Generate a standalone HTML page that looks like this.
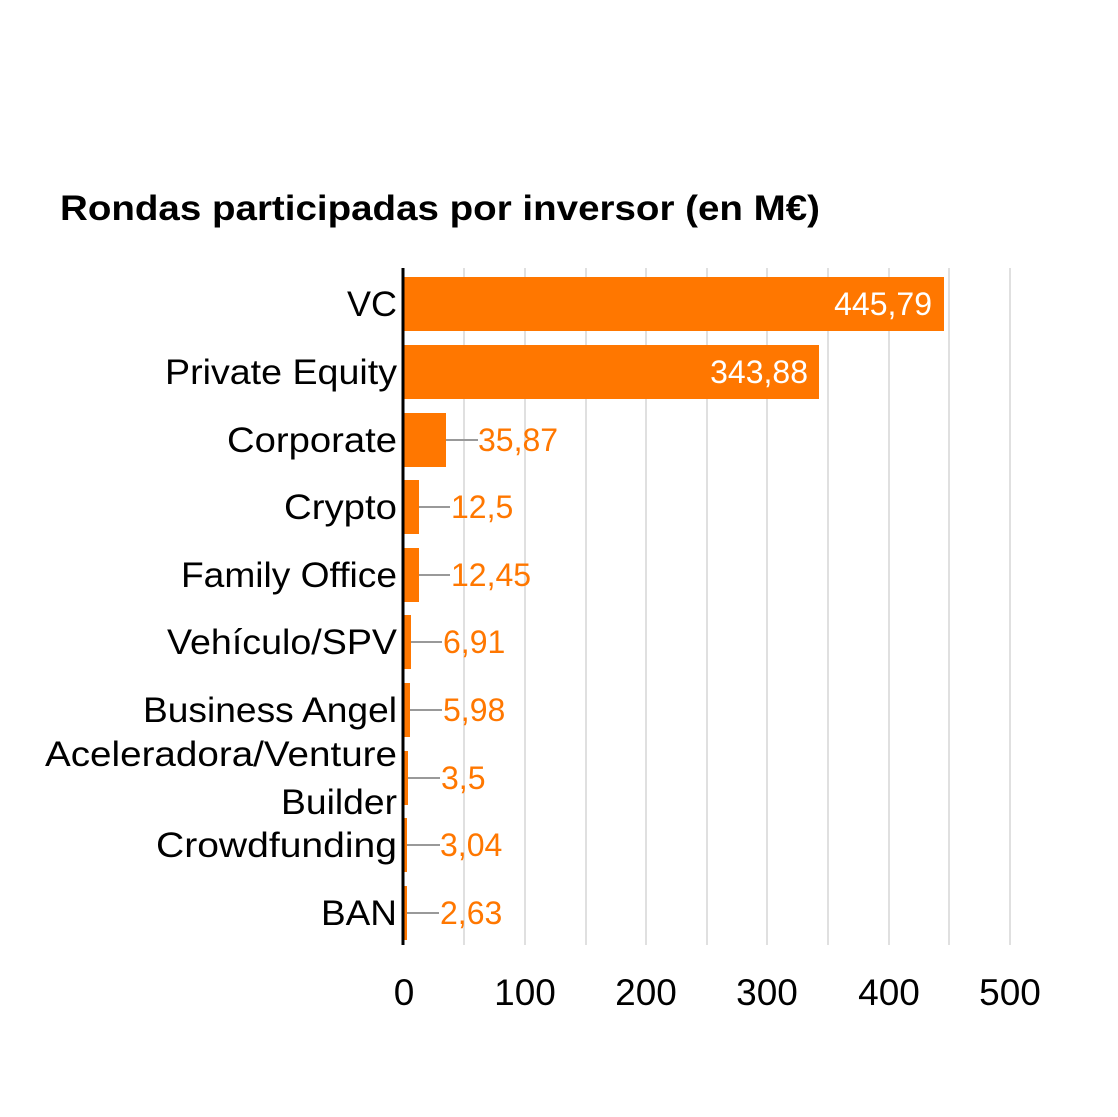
<!DOCTYPE html>
<html><head><meta charset="utf-8"><style>
html,body{margin:0;padding:0;background:#fff;}
svg{display:block;}
text{font-family:"Liberation Sans",sans-serif;}
</style></head><body>
<svg width="1118" height="1117" viewBox="0 0 1118 1117">
<text x="60" y="220" font-size="35" font-weight="bold" fill="#000" textLength="760" lengthAdjust="spacingAndGlyphs">Rondas participadas por inversor (en M€)</text>
<g stroke="#e0e0e0" stroke-width="2">
<line x1="464" y1="268" x2="464" y2="945"/><line x1="525" y1="268" x2="525" y2="945"/>
<line x1="586" y1="268" x2="586" y2="945"/><line x1="646" y1="268" x2="646" y2="945"/>
<line x1="707" y1="268" x2="707" y2="945"/><line x1="767" y1="268" x2="767" y2="945"/>
<line x1="828" y1="268" x2="828" y2="945"/><line x1="889" y1="268" x2="889" y2="945"/>
<line x1="949" y1="268" x2="949" y2="945"/><line x1="1010" y1="268" x2="1010" y2="945"/>
</g>
<g fill="#ff7700">
<rect x="404" y="277" width="540" height="54"/>
<rect x="404" y="345" width="415" height="54"/>
<rect x="404" y="413" width="42" height="54"/>
<rect x="404" y="480" width="15" height="54"/>
<rect x="404" y="548" width="15" height="54"/>
<rect x="404" y="615" width="7" height="54"/>
<rect x="404" y="683" width="6" height="54"/>
<rect x="404" y="751" width="4" height="54"/>
<rect x="404" y="818" width="3" height="54"/>
<rect x="404" y="886" width="3" height="54"/>
</g>
<g stroke="#999" stroke-width="2">
<line x1="446" y1="440" x2="478" y2="440"/>
<line x1="419" y1="507" x2="450" y2="507"/>
<line x1="419" y1="575" x2="450" y2="575"/>
<line x1="411" y1="642" x2="442" y2="642"/>
<line x1="410" y1="710" x2="442" y2="710"/>
<line x1="408" y1="778" x2="440" y2="778"/>
<line x1="407" y1="845" x2="440" y2="845"/>
<line x1="407" y1="913" x2="439" y2="913"/>
</g>
<line x1="403" y1="268" x2="403" y2="945" stroke="#000" stroke-width="3"/>
<g font-size="32" fill="#fff" text-anchor="end">
<text x="932" y="315">445,79</text>
<text x="808" y="383">343,88</text>
</g>
<g font-size="32" fill="#ff7700">
<text x="478" y="451">35,87</text>
<text x="451" y="518">12,5</text>
<text x="451" y="586">12,45</text>
<text x="443" y="653">6,91</text>
<text x="443" y="721">5,98</text>
<text x="441" y="789">3,5</text>
<text x="440" y="856">3,04</text>
<text x="440" y="924">2,63</text>
</g>
<g font-size="35" fill="#000" lengthAdjust="spacingAndGlyphs">
<text x="347" y="316" textLength="50" lengthAdjust="spacingAndGlyphs">VC</text>
<text x="165" y="384" textLength="232" lengthAdjust="spacingAndGlyphs">Private Equity</text>
<text x="227" y="452" textLength="170" lengthAdjust="spacingAndGlyphs">Corporate</text>
<text x="284" y="519" textLength="113" lengthAdjust="spacingAndGlyphs">Crypto</text>
<text x="181" y="587" textLength="216" lengthAdjust="spacingAndGlyphs">Family Office</text>
<text x="167" y="654" textLength="230" lengthAdjust="spacingAndGlyphs">Vehículo/SPV</text>
<text x="143" y="722" textLength="254" lengthAdjust="spacingAndGlyphs">Business Angel</text>
<text x="45" y="766" textLength="352" lengthAdjust="spacingAndGlyphs">Aceleradora/Venture</text>
<text x="281" y="814" textLength="116" lengthAdjust="spacingAndGlyphs">Builder</text>
<text x="156" y="857" textLength="241" lengthAdjust="spacingAndGlyphs">Crowdfunding</text>
<text x="321" y="925" textLength="76" lengthAdjust="spacingAndGlyphs">BAN</text>
</g>
<g font-size="37" fill="#000" text-anchor="middle">
<text x="404" y="1005">0</text>
<text x="525" y="1005">100</text>
<text x="646" y="1005">200</text>
<text x="767" y="1005">300</text>
<text x="889" y="1005">400</text>
<text x="1010" y="1005">500</text>
</g>
</svg>
</body></html>
